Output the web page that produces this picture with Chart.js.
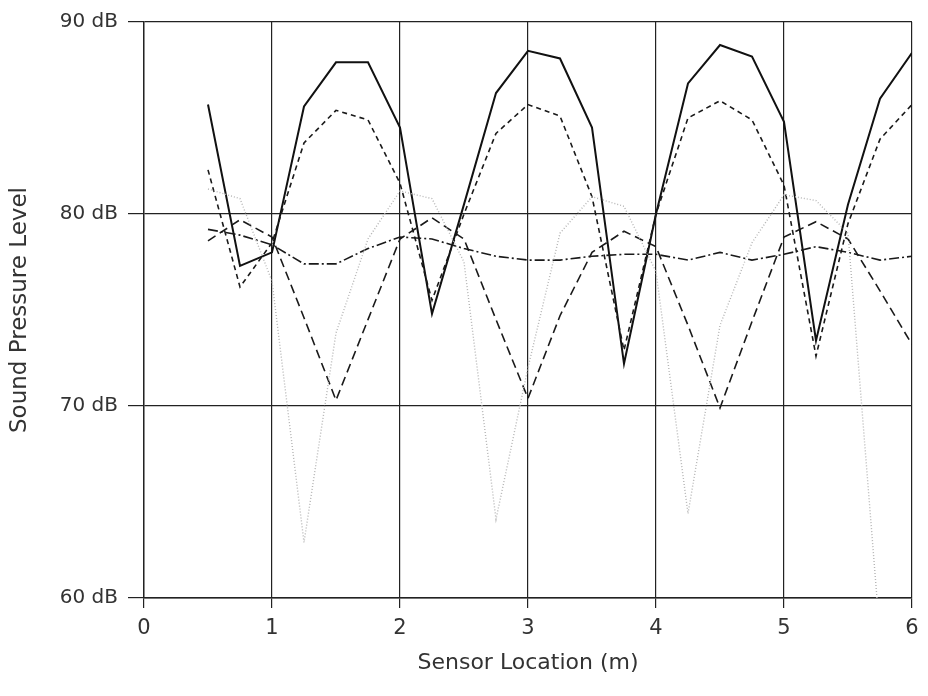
<!DOCTYPE html>
<html>
<head>
<meta charset="utf-8">
<script src="https://cdn.jsdelivr.net/npm/chart.js@4.4.1/dist/chart.umd.min.js"></script>
<style>
  html, body { margin: 0; background: #fff; }
  #chart { display: block; }
</style>
</head>
<body>
<canvas id="chart" width="928" height="696"></canvas>
<script>
/* ---------- data ---------- */
const sensorPos = [0.5, 0.75, 1, 1.25, 1.5, 1.75, 2, 2.25, 2.5, 2.75, 3, 3.25,
                   3.5, 3.75, 4, 4.25, 4.5, 4.75, 5, 5.25, 5.5, 5.75, 6];

const splSolid   = [85.7, 77.3, 78.0, 85.6, 87.9, 87.9, 84.5, 74.8, 80.5, 86.3, 88.5, 88.1,
                    84.5, 72.2, 80.0, 86.8, 88.8, 88.2, 84.8, 73.4, 80.5, 86.0, 88.4];
const splDashA   = [82.3, 76.2, 78.5, 83.7, 85.4, 84.9, 81.6, 75.5, 80.0, 84.2, 85.7, 85.1,
                    80.9, 72.9, 80.0, 85.0, 85.9, 84.9, 81.5, 72.6, 79.5, 83.9, 85.7];
const splDashB   = [78.6, 79.7, 78.8, 74.6, 70.3, 74.5, 78.7, 79.8, 78.7, 74.5, 70.4, 74.7,
                    78.0, 79.1, 78.3, 74.2, 69.9, 74.4, 78.8, 79.6, 78.7, 76.0, 73.2];
const splDotted  = [81.3, 80.8, 76.5, 62.9, 73.8, 78.7, 81.2, 80.8, 77.5, 64.1, 72.0, 79.0,
                    80.9, 80.4, 77.0, 64.4, 74.2, 78.5, 81.0, 80.7, 79.0, 58.0, null];
const splDashDot = [79.2, 78.9, 78.4, 77.4, 77.4, 78.2, 78.8, 78.7, 78.2, 77.8, 77.6, 77.6,
                    77.8, 77.9, 77.9, 77.6, 78.0, 77.6, 77.9, 78.3, 78.0, 77.6, 77.8];

const xTicks = [0, 1, 2, 3, 4, 5, 6];
const yTicks = [60, 70, 80, 90];

/* ---------- helpers ---------- */
const pts = ys => sensorPos.map((x, i) => ({ x, y: ys[i] }));

function line(ys, color, width, dash) {
  return {
    data: pts(ys),
    borderColor: color,
    borderWidth: width,
    borderDash: dash,
    pointRadius: 0,
    tension: 0,
    fill: false,
    spanGaps: false
  };
}

const FONT = '"DejaVu Sans", "Liberation Sans", sans-serif';
const INK  = '#333';

/* ---------- chart ---------- */
new Chart(document.getElementById('chart'), {
  type: 'line',
  data: {
    datasets: [
      line(splDotted,  '#b5b5b5', 1.4, [1, 2]),
      line(splDashDot, '#1a1a1a', 1.6, [10, 3, 2, 3]),
      line(splDashB,   '#1a1a1a', 1.6, [9, 5]),
      line(splDashA,   '#1a1a1a', 1.6, [5, 4]),
      line(splSolid,   '#111',    2.0, [])
    ]
  },
  options: {
    responsive: false,
    animation: false,
    devicePixelRatio: 1,
    layout: { padding: { top: 22, right: 16, left: 0, bottom: 0 } },
    plugins: { legend: { display: false }, tooltip: { enabled: false } },
    scales: {
      x: {
        type: 'linear',
        min: 0, max: 6,
        afterBuildTicks: s => { s.ticks = xTicks.map(v => ({ value: v })); },
        afterFit: s => { s.height = 98; },
        grid: { color: '#222', lineWidth: 1.2, tickColor: '#222', tickLength: 10 },
        border: { color: '#222', width: 1.4 },
        ticks: { color: INK, font: { family: FONT, size: 21 }, padding: 8, maxRotation: 0 },
        title: {
          display: true, text: 'Sensor Location (m)', color: INK,
          font: { family: FONT, size: 22 }, padding: { top: 0, bottom: 20 }
        }
      },
      y: {
        min: 60, max: 90,
        afterBuildTicks: s => { s.ticks = yTicks.map(v => ({ value: v })); },
        afterFit: s => { s.width = 144; },
        grid: { color: '#222', lineWidth: 1.2, tickColor: '#222', tickLength: 16 },
        border: { color: '#222', width: 1.4 },
        ticks: {
          color: INK, font: { family: FONT, size: 20 }, padding: 10,
          callback: v => v + ' dB'
        },
        title: {
          display: true, text: 'Sound Pressure Level', color: INK,
          font: { family: FONT, size: 23 }, padding: { top: 6, bottom: 0 }
        }
      }
    }
  }
});
</script>
</body>
</html>
